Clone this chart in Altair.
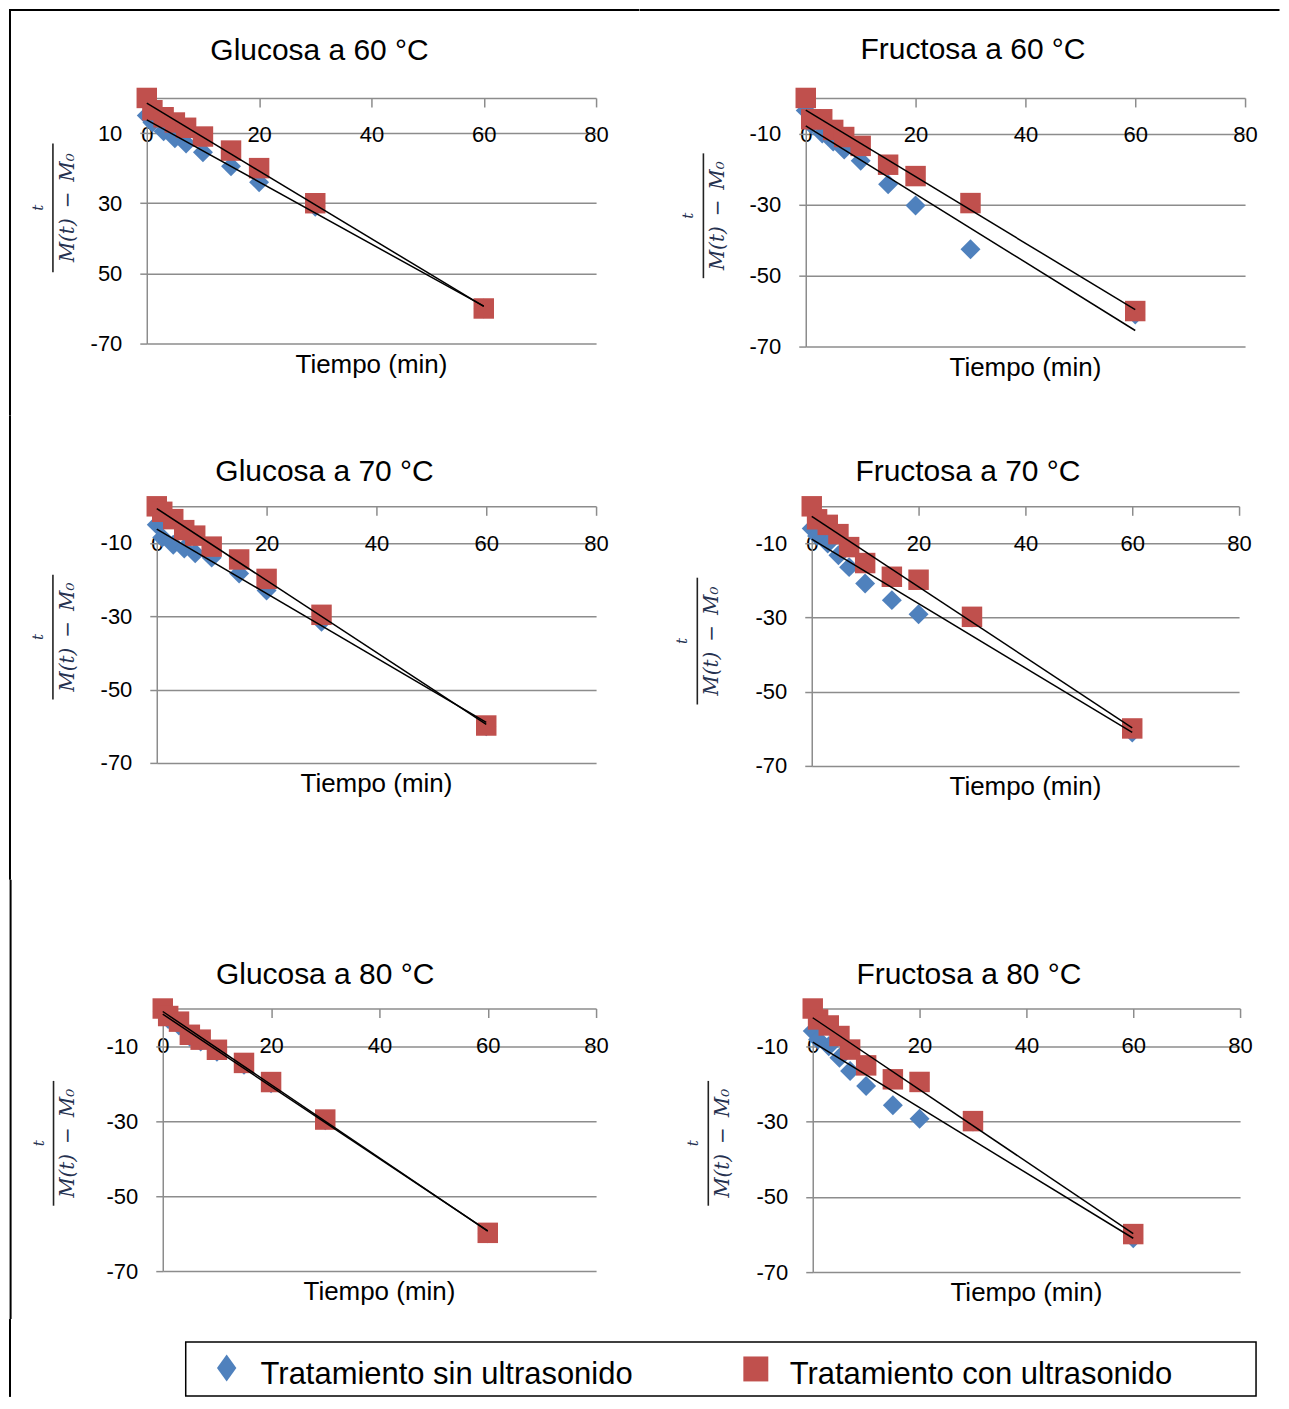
import altair as alt
import pandas as pd

# ---------------- data ----------------
tiempo = [0, 1, 3, 5, 7, 10, 15, 20, 30, 60]
series = ["Tratamiento sin ultrasonido", "Tratamiento con ultrasonido"]
paneles = ["Glucosa a 60 °C", "Fructosa a 60 °C", "Glucosa a 70 °C",
           "Fructosa a 70 °C", "Glucosa a 80 °C", "Fructosa a 80 °C"]

sin_glu60 = [-5, -7, -9.5, -11.5, -13, -15.5, -19.5, -24, -31, -60]
con_glu60 = [0, -3.5, -5.5, -7, -8.5, -11, -15, -20, -30, -60]
sin_fru60 = [-3.5, -7.5, -10, -12.3, -14.5, -17.7, -24.3, -30.3, -42.6, -61]
con_fru60 = [0, -6, -6, -9, -11, -13.5, -18.8, -22, -29.6, -60]
sin_glu70 = [-5, -8.5, -10.5, -11.5, -12.8, -14, -18.3, -23, -31.5, -60]
con_glu70 = [0, -1.5, -3.5, -6.5, -8, -11, -14.5, -19.8, -29.6, -59.8]
sin_fru70 = [-6, -8, -10, -13.2, -16.4, -20.8, -25.3, -29.1, -30, -61]
con_fru70 = [0, -3.5, -5, -7.5, -11, -15.3, -19, -19.8, -29.8, -59.9]
sin_glu80 = [-0.8, -2.8, -4.5, -7.5, -8.8, -11.5, -15, -19.9, -29.8, -59.9]
con_glu80 = [0, -2, -3.5, -7, -8.3, -11, -14.5, -19.6, -29.6, -59.8]
sin_fru80 = [-6, -8.2, -10, -13.1, -16.6, -20.6, -25.7, -29.3, -30, -61]
con_fru80 = [0, -2.9, -4.5, -7.3, -10.9, -15.1, -18.8, -19.5, -29.9, -59.9]

x_ticks = [0, 20, 40, 60, 80]
y_ticks = [-10, -30, -50, -70]
y_labels_glu60 = ["10", "30", "50", "-70"]
y_labels = ["-10", "-30", "-50", "-70"]
x_title = "Tiempo (min)"
y_num = "t"
y_den = "M(t)\u2002\u2212\u2002M\u2080"

# ---------------- style / layout ----------------
BLUE = "#4F81BD"
RED = "#C0504D"
GRID = "#8C8C8C"
SANS = "Liberation Sans"
SERIF = "DejaVu Serif"
FRAC = "#25314f"
DIAMOND_PATH = "M0,-1L0.72,0L0,1L-0.72,0Z"

layouts = [
    dict(left=147, top=97, w=450, h=246, cell=(9, 8, 640, 415), tx=320, ty=48,
         bx=53, byc=207, bl=129, btop=True, bleft=True),
    dict(left=806.5, top=97, w=440, h=249, cell=(640, 8, 1281, 415), tx=974, ty=47,
         bx=704, byc=215, bl=125, btop=True, bleft=False),
    dict(left=157, top=506, w=440, h=257, cell=(9, 415, 640, 880), tx=325, ty=470,
         bx=53, byc=637, bl=125, btop=False, bleft=True),
    dict(left=812.6, top=506, w=428, h=260, cell=(640, 415, 1281, 880), tx=969, ty=470,
         bx=698, byc=641, bl=127, btop=False, bleft=False),
    dict(left=162.4, top=1009, w=434, h=263, cell=(9, 880, 640, 1320), tx=325, ty=973,
         bx=53, byc=1144, bl=125, btop=False, bleft=True),
    dict(left=812.6, top=1009, w=428, h=264, cell=(640, 880, 1281, 1320), tx=969, ty=973,
         bx=708, byc=1144, bl=125, btop=False, bleft=False),
]

one = pd.DataFrame({"k": [0]})


def label_expr(vals, labels):
    parts = [f"datum.value == {v} ? '{l}'" for v, l in zip(vals, labels)]
    return " : ".join(parts) + " : ''"


def spacer():
    return alt.Chart(one).mark_rect(opacity=0).encode(
        x=alt.value(0), x2=alt.value(1), y=alt.value(0), y2=alt.value(1)
    ).properties(width=1, height=1)


def box(x0, x1, y0, y1, color="black", opacity=1):
    return alt.Chart(one).mark_rect(color=color, opacity=opacity, strokeWidth=0).encode(
        x=alt.value(x0), x2=alt.value(x1), y=alt.value(y0), y2=alt.value(y1))


def panel(i, sin_vals, con_vals, ylabels):
    L = layouts[i]
    name = paneles[i]
    w, h = L["w"], L["h"]
    left, top = L["left"], L["top"]
    cx0, cy0, cx1, cy1 = L["cell"]

    def rx(p):
        return p - left

    def ry(p):
        return p - top

    df = pd.DataFrame({
        "t": tiempo + tiempo,
        "y": sin_vals + con_vals,
        "serie": [series[0]] * len(tiempo) + [series[1]] * len(tiempo),
    })

    X = alt.X("t:Q", scale=alt.Scale(domain=[0, 80], nice=False, zero=False),
              axis=alt.Axis(orient="bottom", offset=-h, values=x_ticks, grid=False,
                            title=None, tickSize=9, tickColor=GRID, tickWidth=1.5,
                            domainColor=GRID, domainWidth=1.5, labelFont=SANS,
                            labelFontSize=22, labelColor="black", labelPadding=18,
                            labelFlush=False, labelOverlap=False))
    Y = alt.Y("y:Q", scale=alt.Scale(domain=[-70, 0], nice=False),
              axis=alt.Axis(values=y_ticks, grid=True, gridColor=GRID, gridWidth=1.5,
                            title=None, tickSize=7, tickColor=GRID, tickWidth=1.5,
                            domainColor=GRID, domainWidth=1.5, labelFont=SANS,
                            labelFontSize=22, labelColor="black", labelPadding=18,
                            labelExpr=label_expr(y_ticks, ylabels),
                            labelOverlap=False))

    cell = box(rx(cx0), rx(cx1), ry(cy0), ry(cy1), color="white", opacity=0)

    base = alt.Chart(df)
    blue = base.transform_filter(alt.datum.serie == series[0]).mark_point(
        shape="diamond", filled=True, size=400, opacity=1, color=BLUE, strokeWidth=0
    ).encode(x=X, y=Y)
    red = base.transform_filter(alt.datum.serie == series[1]).mark_point(
        shape="square", filled=True, size=420, opacity=1, color=RED, strokeWidth=0
    ).encode(x=X, y=Y)
    lines = base.transform_regression("t", "y", groupby=["serie"]).mark_line(
        color="black", strokeWidth=1.5
    ).encode(x=X, y=Y, detail="serie:N")

    title = alt.Chart(one).mark_text(
        text=name, font=SANS, fontSize=30, color="black", align="center", baseline="middle"
    ).encode(x=alt.value(rx(L["tx"])), y=alt.value(ry(L["ty"]) + 2))
    xt = alt.Chart(one).mark_text(
        text=x_title, font=SANS, fontSize=26, color="black", align="center", baseline="middle"
    ).encode(x=alt.value(w / 2), y=alt.value(h + 21))

    bx = rx(L["bx"])
    byc = ry(L["byc"])
    num = alt.Chart(one).mark_text(
        text=y_num, font=SERIF, fontStyle="italic", fontSize=15, color=FRAC,
        angle=270, align="center", baseline="middle"
    ).encode(x=alt.value(bx - 15), y=alt.value(byc))
    den = alt.Chart(one).mark_text(
        text=y_den, font=SERIF, fontStyle="italic", fontSize=20, color=FRAC,
        angle=270, align="center", baseline="middle"
    ).encode(x=alt.value(bx + 15), y=alt.value(byc))
    bar = box(bx - 0.8, bx + 0.8, byc - L["bl"] / 2, byc + L["bl"] / 2, color="#222222")

    layers = [cell, blue, red, lines, title, xt, num, den, bar]
    if L["btop"]:
        layers.append(box(rx(cx0), rx(cx1), ry(8), ry(10)))
    if L["bleft"]:
        layers.append(box(rx(9), rx(11), ry(cy0), ry(cy1)))
    return alt.layer(*layers).properties(width=w, height=h)


p1 = panel(0, sin_glu60, con_glu60, y_labels_glu60)
p2 = panel(1, sin_fru60, con_fru60, y_labels)
p3 = panel(2, sin_glu70, con_glu70, y_labels)
p4 = panel(3, sin_fru70, con_fru70, y_labels)
p5 = panel(4, sin_glu80, con_glu80, y_labels)
p6 = panel(5, sin_fru80, con_fru80, y_labels)

# ---------------- legend ----------------
LG = dict(left=186, top=1343, w=1072, h=54, cell=(9, 1320, 1281, 1400))
leg_df = pd.DataFrame({"serie": series})
LX = alt.X("serie:N", scale=alt.Scale(type="point", domain=series, range=[41, 571], padding=0),
           axis=None)
lcell = box(LG["cell"][0] - LG["left"], LG["cell"][2] - LG["left"],
            LG["cell"][1] - LG["top"], LG["cell"][3] - LG["top"], color="white", opacity=0)
lborder = box(9 - LG["left"], 11 - LG["left"], LG["cell"][1] - LG["top"], 1398 - LG["top"])
lframe = alt.Chart(one).mark_rect(fillOpacity=0, stroke="black", strokeWidth=1.5).encode(
    x=alt.value(0), x2=alt.value(LG["w"]), y=alt.value(0), y2=alt.value(LG["h"]))
d_sym = alt.Chart(leg_df).transform_filter(alt.datum.serie == series[0]).mark_point(
    shape=DIAMOND_PATH, filled=True, size=729, color=BLUE, opacity=1, strokeWidth=0
).encode(x=LX, y=alt.value(26))
s_sym = alt.Chart(leg_df).transform_filter(alt.datum.serie == series[1]).mark_point(
    shape="square", filled=True, size=625, color=RED, opacity=1, strokeWidth=0
).encode(x=LX, y=alt.value(27))
l_txt = alt.Chart(leg_df).mark_text(
    align="left", baseline="alphabetic", dx=34, fontSize=31, font=SANS, color="black"
).encode(x=LX, y=alt.value(42), text="serie:N")
legend = alt.layer(lcell, lborder, lframe, d_sym, s_sym, l_txt).properties(
    width=LG["w"], height=LG["h"])

row1 = alt.hconcat(spacer(), p1, p2, spacing=0)
row2 = alt.hconcat(spacer(), p3, p4, spacing=0)
row3 = alt.hconcat(spacer(), p5, p6, spacing=0)
row4 = alt.hconcat(spacer(), legend, spacing=0)

chart = alt.vconcat(row1, row2, row3, row4, spacing=0).properties(
    padding=0
).configure_view(stroke="transparent", strokeWidth=0)

chart.save("out.html", embed_options={"renderer": "svg", "actions": False})
